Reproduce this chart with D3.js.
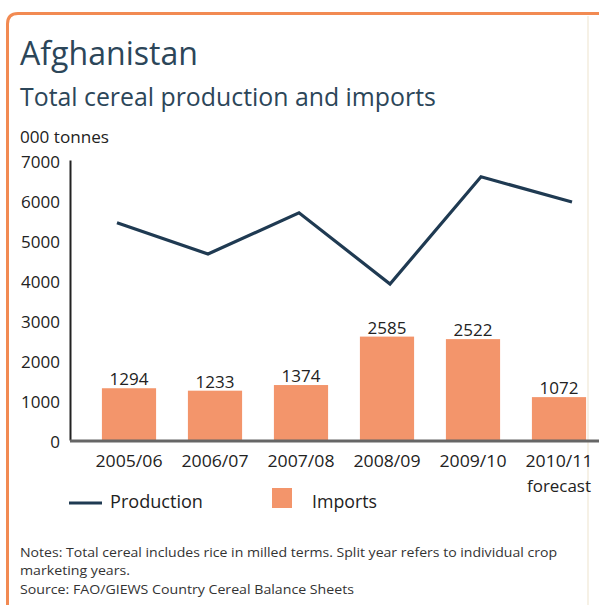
<!DOCTYPE html>
<html>
<head>
<meta charset="utf-8">
<script src="https://cdn.jsdelivr.net/npm/d3@7"></script>
<style>
  html, body { margin: 0; padding: 0; background: #ffffff; }
  svg { display: block; }
  text { font-family: "Open Sans", "Noto Sans", sans-serif; }
</style>
</head>
<body>
<script>
// ---- Data ----
const categories = ["2005/06", "2006/07", "2007/08", "2008/09", "2009/10", "2010/11"];
const categorySubLabels = ["", "", "", "", "", "forecast"];
const production = [5430, 4650, 5680, 3900, 6580, 5950];
const imports = [1294, 1233, 1374, 2585, 2522, 1072];
const yTicks = [0, 1000, 2000, 3000, 4000, 5000, 6000, 7000];
const titleText = "Afghanistan";
const subtitleText = "Total cereal production and imports";
const unitText = "000 tonnes";
const legendLabels = ["Production", "Imports"];
const notesLines = [
  "Notes: Total cereal includes rice in milled terms. Split year refers to individual crop",
  "marketing years.",
  "Source: FAO/GIEWS Country Cereal Balance Sheets"
];

// ---- Styles ----
const W = 599, H = 605;
const orange = "#f3956b";
const navy = "#1f3a52";
const titleColor = "#2c4659";
const textColor = "#222222";

const svg = d3.select("body").append("svg").attr("width", W).attr("height", H);
svg.append("rect").attr("width", W).attr("height", H).attr("fill", "#fff");

// Frame (orange border left + top with rounded corner)
const fp = d3.path();
fp.moveTo(7.5, H);
fp.lineTo(7.5, 24);
fp.quadraticCurveTo(7.5, 13.5, 18, 13.5);
fp.lineTo(W, 13.5);
svg.append("path").attr("d", fp.toString()).attr("fill", "none")
  .attr("stroke", "#f28a52").attr("stroke-width", 3);
// faint right edge
svg.append("line").attr("x1", 588).attr("x2", 588).attr("y1", 16).attr("y2", H)
  .attr("stroke", "#f6f1e6").attr("stroke-width", 2);

function fitWidth(sel, target) {
  const node = sel.node();
  const size = parseFloat(sel.attr("font-size"));
  const w = node.getComputedTextLength();
  sel.attr("font-size", (size * target / w).toFixed(2));
}

// Titles
svg.append("text").attr("x", 20).attr("y", 65).attr("font-size", 30)
  .attr("fill", titleColor).text(titleText).call(fitWidth, 178);
svg.append("text").attr("x", 20).attr("y", 106).attr("font-size", 24)
  .attr("fill", titleColor).text(subtitleText).call(fitWidth, 416);
svg.append("text").attr("x", 20).attr("y", 143).attr("font-size", 14)
  .attr("fill", textColor).text(unitText).call(fitWidth, 89);

// ---- Scales ----
const y = d3.scaleLinear().domain([0, 7000]).range([440, 160]);
const xBand = d3.scaleBand().domain(categories).range([86, 602])
  .paddingInner(0.37).paddingOuter(0.185);
const xLine = d3.scalePoint().domain(categories).range([117, 572]);

// Y axis
const yAxis = d3.axisLeft(y).tickValues(yTicks).tickSize(0).tickPadding(10)
  .tickFormat(d3.format("d"));
const gy = svg.append("g").attr("transform", "translate(70,0)").call(yAxis);
gy.select(".domain").attr("stroke", "#222").attr("stroke-width", 2);
gy.selectAll("text").attr("font-size", 17).attr("fill", textColor)
  .attr("font-family", "Open Sans, sans-serif").attr("dy", "0.45em");

// Bars
svg.append("g").selectAll("rect").data(imports).join("rect")
  .attr("x", (d, i) => xBand(categories[i]))
  .attr("width", xBand.bandwidth())
  .attr("y", d => y(d))
  .attr("height", d => y(0) - y(d))
  .attr("fill", orange);

// Bar value labels
svg.append("g").selectAll("text").data(imports).join("text")
  .attr("x", (d, i) => xBand(categories[i]) + xBand.bandwidth() / 2)
  .attr("y", d => y(d) - 3)
  .attr("text-anchor", "middle")
  .attr("font-size", 17)
  .attr("fill", textColor)
  .text(d => d);

// X axis
const xAxis = d3.axisBottom(xBand).tickSize(0).tickPadding(15);
const gx = svg.append("g").attr("transform", "translate(0,440)").call(xAxis);
gx.select(".domain").remove();
svg.append("line").attr("x1", 70).attr("x2", 599).attr("y1", 441).attr("y2", 441)
  .attr("stroke", "#666").attr("stroke-width", 3);
gx.selectAll("text").attr("font-size", 17).attr("fill", textColor)
  .attr("font-family", "Open Sans, sans-serif");
gx.selectAll(".tick").each(function (d, i) {
  const t = d3.select(this).select("text");
  t.attr("textLength", 67).attr("lengthAdjust", "spacingAndGlyphs");
  if (categorySubLabels[i]) {
    d3.select(this).append("text")
      .attr("y", 52).attr("text-anchor", "middle")
      .attr("font-size", 17).attr("fill", textColor)
      .attr("font-family", "Open Sans, sans-serif")
      .attr("textLength", 64).attr("lengthAdjust", "spacingAndGlyphs")
      .text(categorySubLabels[i]);
  }
});

// Production line
const line = d3.line().x((d, i) => xLine(categories[i])).y(d => y(d));
svg.append("path").datum(production).attr("d", line)
  .attr("fill", "none").attr("stroke", navy).attr("stroke-width", 3.2)
  .attr("stroke-linejoin", "miter");

// Legend
svg.append("line").attr("x1", 69).attr("x2", 102).attr("y1", 503).attr("y2", 503)
  .attr("stroke", navy).attr("stroke-width", 3);
svg.append("text").attr("x", 110).attr("y", 508).attr("font-size", 18)
  .attr("fill", textColor).text(legendLabels[0]).call(fitWidth, 93);
svg.append("rect").attr("x", 272).attr("y", 488).attr("width", 20).attr("height", 20)
  .attr("fill", orange);
svg.append("text").attr("x", 312).attr("y", 508).attr("font-size", 18)
  .attr("fill", textColor).text(legendLabels[1]).call(fitWidth, 65);

// Notes
const noteWidths = [537, 110, 334];
const noteY = [557, 575, 594];
notesLines.forEach((s, i) => {
  svg.append("text").attr("x", 20).attr("y", noteY[i]).attr("font-size", 13)
    .attr("fill", "#333").attr("textLength", noteWidths[i])
    .attr("lengthAdjust", "spacingAndGlyphs").text(s);
});
</script>
</body>
</html>
